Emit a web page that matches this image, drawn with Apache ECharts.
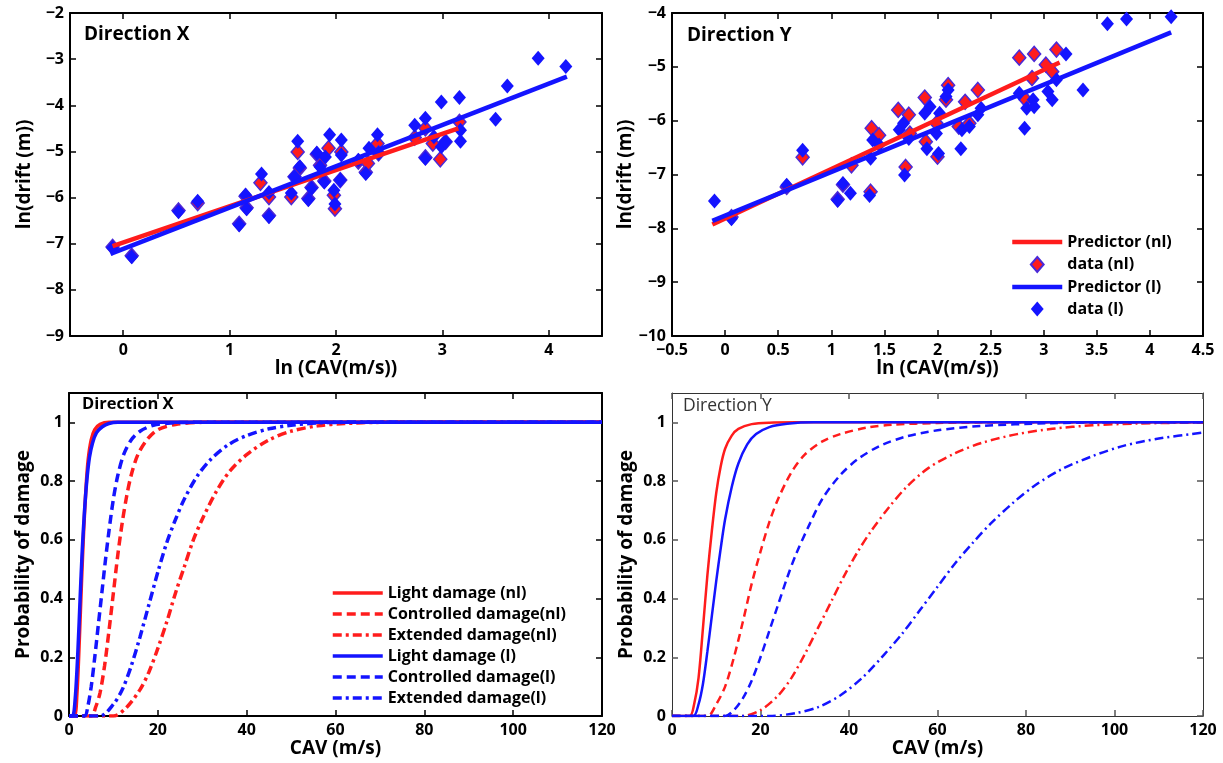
<!DOCTYPE html>
<html lang="en">
<head>
<meta charset="UTF-8">
<title>Drift vs CAV and fragility curves</title>
<script src="https://cdn.jsdelivr.net/npm/echarts@6/dist/echarts.min.js"></script>
<style>
    html, body { margin: 0; padding: 0; background: #fff; }
    #chart { width: 1223px; height: 763px; }
</style>
</head>
<body>
<div id="chart"></div>
<script>
    // ---- top panels: ln(drift) against ln(CAV) ----
    var dirXDataNl = [[-0.10,-7.07],[0.08,-7.26],[0.52,-6.28],[0.70,-6.12],[1.09,-6.57],[1.15,-5.97],[1.16,-6.22],
        [1.29,-5.68],[1.37,-5.99],[1.37,-6.39],[1.58,-5.99],[1.61,-5.55],[1.64,-5.01],[1.66,-5.36],[1.74,-6.02],
        [1.77,-5.78],[1.82,-5.06],[1.85,-5.30],[1.89,-5.64],[1.93,-4.93],[1.98,-5.95],[1.99,-6.24],[2.04,-5.62],
        [2.05,-5.01],[2.21,-5.22],[2.28,-5.45],[2.30,-5.26],[2.39,-4.83],[2.40,-5.04],[2.74,-4.70],[2.84,-4.50],
        [2.84,-5.13],[2.91,-4.83],[2.98,-5.17],[3.03,-4.79],[3.16,-4.36]];
    var dirXDataL = [[-0.10,-7.09],[0.08,-7.28],[0.52,-6.30],[0.70,-6.08],[1.09,-6.59],[1.15,-5.95],[1.16,-6.24],
        [1.30,-5.49],[1.37,-5.89],[1.37,-6.41],[1.58,-5.90],[1.61,-5.55],[1.64,-4.78],[1.66,-5.33],[1.74,-6.04],
        [1.77,-5.80],[1.82,-5.04],[1.85,-5.33],[1.89,-5.66],[1.90,-5.12],[1.94,-4.64],[1.98,-5.84],[1.99,-6.14],
        [2.04,-5.62],[2.05,-4.75],[2.05,-5.08],[2.21,-5.19],[2.28,-5.48],[2.31,-4.93],[2.39,-4.64],[2.40,-5.04],
        [2.74,-4.43],[2.84,-4.28],[2.84,-5.15],[2.92,-4.68],[2.99,-3.93],[2.99,-4.90],[3.03,-4.79],[3.16,-3.83],
        [3.17,-4.54],[3.17,-4.78],[3.50,-4.30],[3.61,-3.58],[3.90,-2.98],[4.16,-3.16]];
    var dirXPredNl = [[-0.10,-7.05],[3.15,-4.50]];
    var dirXPredL = [[-0.12,-7.22],[4.17,-3.38]];

    var dirYDataNl = [[0.06,-7.79],[0.58,-7.23],[0.73,-6.68],[1.06,-7.46],[1.11,-7.19],[1.19,-6.83],[1.37,-7.32],
        [1.38,-6.14],[1.45,-6.27],[1.63,-5.80],[1.70,-6.86],[1.73,-5.89],[1.74,-6.24],[1.88,-5.57],[1.89,-6.39],
        [1.99,-6.05],[2.00,-6.67],[2.08,-5.61],[2.10,-5.34],[2.20,-6.11],[2.26,-5.65],[2.30,-6.05],[2.38,-5.43],
        [2.77,-4.83],[2.83,-5.61],[2.89,-5.21],[2.91,-4.76],[3.02,-4.96],[3.08,-5.09],[3.12,-4.68]];
    var dirYDataL = [[-0.10,-7.49],[0.06,-7.82],[0.58,-7.20],[0.73,-6.55],[1.06,-7.48],[1.11,-7.17],[1.18,-7.35],
        [1.36,-7.39],[1.37,-6.70],[1.39,-6.36],[1.45,-6.45],[1.64,-6.17],[1.68,-6.05],[1.69,-7.01],[1.73,-6.33],
        [1.88,-5.86],[1.90,-6.52],[1.93,-5.74],[1.99,-6.24],[2.01,-6.61],[2.02,-5.86],[2.08,-5.55],[2.10,-5.43],
        [2.22,-6.52],[2.23,-6.17],[2.30,-6.11],[2.38,-5.89],[2.41,-5.77],[2.77,-5.49],[2.82,-6.14],[2.84,-5.77],
        [2.90,-5.61],[2.91,-5.74],[3.04,-5.46],[3.08,-5.61],[3.12,-5.24],[3.21,-4.76],[3.37,-5.43],[3.60,-4.20],
        [3.78,-4.11],[4.20,-4.07]];
    var dirYPredNl = [[-0.12,-7.93],[3.15,-4.92]];
    var dirYPredL = [[-0.12,-7.86],[4.20,-4.36]];

    // ---- bottom panels: probability of damage against CAV ----
    var fxLightNl = [[0,0],[1.2,0],[1.8,0.08],[2.3,0.25],[2.8,0.45],[3.3,0.63],[3.8,0.77],[4.3,0.87],[5,0.94],[5.8,0.975],[7,0.993],[9,1],[120,1]];
    var fxContrNl = [[0,0],[5,0],[6,0.03],[7,0.08],[8,0.17],[9,0.29],[10,0.42],[11,0.55],[12,0.66],[13,0.75],[14,0.82],[15.5,0.89],[17.5,0.94],[20,0.975],[24,0.993],[30,1],[120,1]];
    var fxExtNl = [[0,0],[10,0],[13,0.03],[16,0.09],[18,0.15],[20,0.23],[22,0.32],[24,0.42],[26,0.51],[28,0.6],[30,0.67],[33,0.76],[36,0.83],[40,0.89],[45,0.94],[50,0.97],[56,0.988],[62,0.996],[70,1],[120,1]];
    var fxLightL = [[0,0],[0.8,0],[1.4,0.06],[2,0.22],[2.5,0.4],[3,0.57],[3.5,0.7],[4,0.8],[4.6,0.88],[5.3,0.93],[6.2,0.965],[7.5,0.985],[9,0.996],[11,1],[120,1]];
    var fxContrL = [[0,0],[3.5,0],[4.2,0.03],[5,0.1],[5.8,0.2],[6.6,0.31],[7.4,0.42],[8.2,0.53],[9,0.63],[10,0.74],[11,0.82],[12.3,0.89],[14,0.94],[16,0.97],[19,0.99],[23,0.998],[28,1],[120,1]];
    var fxExtL = [[0,0],[7,0],[10,0.04],[12,0.09],[14,0.17],[16,0.27],[18,0.38],[20,0.49],[22,0.59],[24,0.67],[26,0.74],[29,0.82],[32,0.875],[36,0.925],[40,0.955],[45,0.978],[50,0.99],[56,0.998],[62,1],[120,1]];

    var fyLightNl = [[0,0],[4,0],[5,0.04],[6,0.13],[7,0.3],[8,0.48],[9,0.63],[10,0.76],[11,0.85],[12,0.91],[13.5,0.955],[15,0.978],[18,0.994],[22,0.999],[28,1],[120,1]];
    var fyLightL = [[0,0],[4.8,0],[6,0.04],[7,0.11],[8,0.22],[9,0.34],[10,0.46],[11,0.57],[12,0.67],[13.5,0.78],[15,0.86],[17,0.925],[19,0.96],[22,0.984],[26,0.995],[32,1],[120,1]];
    var fyContrNl = [[0,0],[8,0],[10,0.04],[12,0.1],[14,0.2],[16,0.32],[18,0.45],[20,0.56],[22,0.66],[24,0.74],[27,0.83],[30,0.89],[34,0.935],[38,0.96],[44,0.982],[50,0.992],[60,0.998],[70,1],[120,1]];
    var fyContrL = [[0,0],[12,0],[14,0.02],[16,0.06],[18,0.12],[20,0.2],[22,0.29],[24,0.38],[26,0.47],[28,0.55],[31,0.65],[34,0.74],[38,0.82],[42,0.875],[47,0.92],[53,0.952],[60,0.973],[70,0.988],[85,0.997],[100,1],[120,1]];
    var fyExtNl = [[0,0],[16,0],[20,0.02],[24,0.07],[27,0.13],[30,0.21],[33,0.3],[36,0.39],[39,0.48],[42,0.56],[45,0.63],[49,0.71],[53,0.78],[58,0.845],[64,0.895],[70,0.93],[78,0.96],[86,0.978],[95,0.99],[105,0.996],[120,1]];
    var fyExtL = [[0,0],[22,0],[28,0.01],[33,0.03],[38,0.07],[43,0.13],[48,0.21],[52,0.28],[56,0.36],[60,0.44],[64,0.52],[68,0.59],[72,0.655],[77,0.725],[82,0.785],[88,0.84],[95,0.885],[102,0.92],[110,0.945],[120,0.965]];

    var driftXTicks = [0, 1, 2, 3, 4];
    var probTicks = [0, 0.2, 0.4, 0.6, 0.8, 1];

    var RED = '#ff1c1c';
    var BLUE = '#1414ff';
    var FONT = 'Open Sans';
    var DIAMOND = 'path://M6,0L12,7L6,14L0,7Z';

    function minus(v) {
        return String(v).replace('-', '\u2212');
    }

    function grid(left, top, width) {
        return { left: left, top: top, width: width, height: 323, show: false,
            containLabel: false, outerBoundsMode: 'none' };
    }

    // every panel gets four axes so that the frame and the inward ticks run round the whole box
    function axis(gi, pos, min, max, interval, custom, name, gap, frame) {
        var main = (pos == 'bottom' || pos == 'left');
        var a = {
            type: 'value', gridIndex: gi, position: pos, min: min, max: max,
            splitLine: { show: false },
            axisLine: { show: true, onZero: false, lineStyle: { color: frame.color, width: frame.width } },
            axisTick: { show: true, inside: true, length: 6, lineStyle: { color: frame.tick, width: 1.5 } },
            axisLabel: { show: main, color: '#000', fontFamily: FONT, fontWeight: 'bold', fontSize: 16,
                margin: 6, formatter: minus }
        };
        if (interval) a.interval = interval;
        if (custom) {
            a.axisTick.customValues = custom;
            a.axisLabel.customValues = custom;
        }
        if (main && name) {
            a.name = name;
            a.nameLocation = 'middle';
            a.nameGap = gap;
            a.nameTextStyle = { color: '#000', fontFamily: FONT, fontWeight: 'bold', fontSize: 19 };
        }
        return a;
    }

    function pred(name, xi, data, color) {
        return { name: name, type: 'line', xAxisIndex: xi, yAxisIndex: xi, data: data, symbol: 'none',
            lineStyle: { color: color, width: 4.5 }, itemStyle: { color: color } };
    }

    function pts(name, xi, data, color, border) {
        return { name: name, type: 'scatter', xAxisIndex: xi, yAxisIndex: xi, data: data, symbol: 'diamond',
            symbolSize: [13, 15],
            itemStyle: { color: color, borderColor: border, borderWidth: border ? 1.5 : 0, opacity: 1 } };
    }

    function curve(name, xi, data, color, type, width) {
        return { name: name, type: 'line', xAxisIndex: xi, yAxisIndex: xi, data: data, symbol: 'none',
            smooth: 0.3,
            lineStyle: { color: color, width: width, type: type, cap: 'butt' }, itemStyle: { color: color } };
    }

    // legend entries for lines only show the stroke, not a marker
    function lineItem(name, width) {
        return { name: name, itemStyle: { opacity: 0 }, lineStyle: { width: width } };
    }

    var dashBL = [9, 5];
    var dotBL = [9, 4, 3, 4];
    var dashBR = [8, 5];
    var dotBR = [9, 4, 2, 4];

    var thick = { color: '#000', width: 2, tick: '#000' };
    var thin = { color: '#333', width: 1, tick: '#555' };

    var option = {
        animation: false,
        backgroundColor: '#fff',
        textStyle: { fontFamily: FONT },
        grid: [
            grid(70, 13, 532),
            grid(672, 13, 531),
            grid(69, 393, 533),
            grid(672, 393, 531)
        ],
        xAxis: [
            axis(0, 'bottom', -0.5, 4.5, null, driftXTicks, 'ln (CAV(m/s))', 22, thick),
            axis(1, 'bottom', -0.5, 4.5, 0.5, null, 'ln (CAV(m/s))', 22, thick),
            axis(2, 'bottom', 0, 120, 20, null, 'CAV (m/s)', 22, thick),
            axis(3, 'bottom', 0, 120, 20, null, 'CAV (m/s)', 22, thin),
            axis(0, 'top', -0.5, 4.5, null, driftXTicks, null, 0, thick),
            axis(1, 'top', -0.5, 4.5, 0.5, null, null, 0, thick),
            axis(2, 'top', 0, 120, 20, null, null, 0, thick),
            axis(3, 'top', 0, 120, 20, null, null, 0, thin)
        ],
        yAxis: [
            axis(0, 'left', -9, -2, 1, null, 'ln(drift (m))', 36, thick),
            axis(1, 'left', -10, -4, 1, null, 'ln(drift (m))', 36, thick),
            axis(2, 'left', 0, 1.1, null, probTicks, 'Probability of damage', 36, thick),
            axis(3, 'left', 0, 1.1, null, probTicks, 'Probability of damage', 36, thin),
            axis(0, 'right', -9, -2, 1, null, null, 0, thick),
            axis(1, 'right', -10, -4, 1, null, null, 0, thick),
            axis(2, 'right', 0, 1.1, null, probTicks, null, 0, thick),
            axis(3, 'right', 0, 1.1, null, probTicks, null, 0, thin)
        ],
        legend: [
            {
                data: [lineItem('Predictor (nl)', 4.5), { name: 'data (nl)', icon: DIAMOND },
                    lineItem('Predictor (l)', 4.5), { name: 'data (l)', icon: DIAMOND }],
                orient: 'vertical', left: 1005, top: 229, itemWidth: 50, itemHeight: 15, itemGap: 6,
                symbolKeepAspect: true,
                textStyle: { color: '#000', fontFamily: FONT, fontWeight: 'bold', fontSize: 16 },
                selectedMode: false
            },
            {
                data: [lineItem('Light damage (nl)', 3.5), lineItem('Controlled damage(nl)', 3.5),
                    lineItem('Extended damage(nl)', 3.5), lineItem('Light damage (l)', 3.5),
                    lineItem('Controlled damage(l)', 3.5), lineItem('Extended damage(l)', 3.5)],
                orient: 'vertical', left: 326, top: 580, itemWidth: 50, itemHeight: 14, itemGap: 5,
                textStyle: { color: '#000', fontFamily: FONT, fontWeight: 'bold', fontSize: 16 },
                selectedMode: false
            }
        ],
        graphic: [
            { type: 'text', left: 84, top: 25, style: { text: 'Direction X', fill: '#000', font: 'bold 19px "Open Sans"' } },
            { type: 'text', left: 687, top: 26, style: { text: 'Direction Y', fill: '#000', font: 'bold 19px "Open Sans"' } },
            { type: 'text', left: 82, top: 396, style: { text: 'Direction X', fill: '#000', font: 'bold 16.5px "Open Sans"' } },
            { type: 'text', left: 683, top: 397, style: { text: 'Direction Y', fill: '#333', font: '17.5px "Open Sans"' } }
        ],
        series: [
            pred('X Predictor (nl)', 0, dirXPredNl, RED),
            pts('X data (nl)', 0, dirXDataNl, RED, '#4a2ad8'),
            pred('X Predictor (l)', 0, dirXPredL, BLUE),
            pts('X data (l)', 0, dirXDataL, BLUE, null),

            pred('Predictor (nl)', 1, dirYPredNl, RED),
            pts('data (nl)', 1, dirYDataNl, RED, '#4a2ad8'),
            pred('Predictor (l)', 1, dirYPredL, BLUE),
            pts('data (l)', 1, dirYDataL, BLUE, null),

            curve('Light damage (nl)', 2, fxLightNl, RED, 'solid', 3.5),
            curve('Controlled damage(nl)', 2, fxContrNl, RED, dashBL, 3.5),
            curve('Extended damage(nl)', 2, fxExtNl, RED, dotBL, 3.5),
            curve('Light damage (l)', 2, fxLightL, BLUE, 'solid', 3.5),
            curve('Controlled damage(l)', 2, fxContrL, BLUE, dashBL, 3.5),
            curve('Extended damage(l)', 2, fxExtL, BLUE, dotBL, 3.5),

            curve('Y Light damage (nl)', 3, fyLightNl, RED, 'solid', 2.5),
            curve('Y Controlled damage(nl)', 3, fyContrNl, RED, dashBR, 2.5),
            curve('Y Extended damage(nl)', 3, fyExtNl, RED, dotBR, 2.5),
            curve('Y Light damage (l)', 3, fyLightL, BLUE, 'solid', 2.5),
            curve('Y Controlled damage(l)', 3, fyContrL, BLUE, dashBR, 2.5),
            curve('Y Extended damage(l)', 3, fyExtL, BLUE, dotBR, 2.5)
        ]
    };

    var myChart = echarts.init(document.getElementById('chart'));
    myChart.setOption(option);
</script>
</body>
</html>
